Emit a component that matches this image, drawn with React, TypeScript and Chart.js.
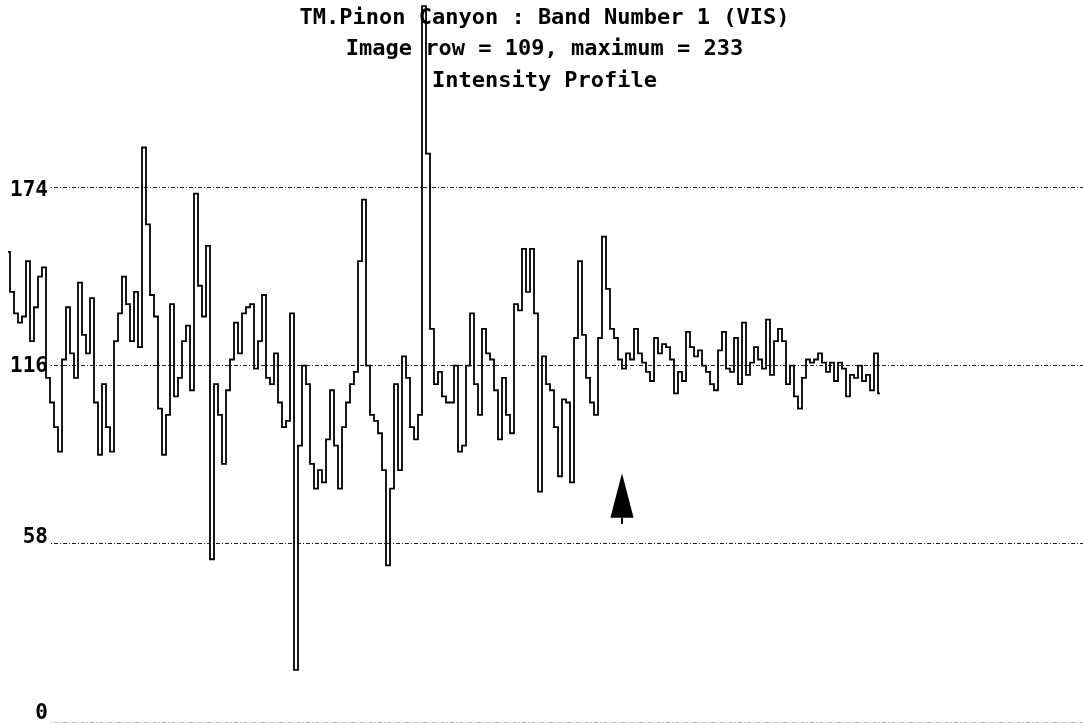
import { useEffect, useRef } from "react";
import { Chart, registerables } from "chart.js";

Chart.register(...registerables);

const TITLE_LINES = [
  "TM.Pinon Canyon : Band Number 1 (VIS)",
  "Image row = 109, maximum = 233",
  "Intensity Profile",
];

const Y_TICKS = [0, 58, 116, 174];
const Y_MIN = -0.3;
const Y_MAX = 235;
const X_MIN = -2;
const X_MAX = 268.75;

// Intensity along the image row (one value per profile sample)
const INTENSITY = [
  153, 140, 133, 130, 132, 150, 124, 135, 145, 148,
  112, 104, 96, 88, 118, 135, 120, 112, 143, 126,
  120, 138, 104, 87, 110, 96, 88, 124, 133, 145,
  136, 124, 140, 122, 187, 162, 139, 132, 102, 87,
  100, 136, 106, 112, 124, 129, 108, 172, 142, 132,
  155, 53, 110, 100, 84, 108, 118, 130, 120, 133,
  135, 136, 115, 124, 139, 112, 110, 120, 104, 96,
  98, 133, 17, 90, 116, 110, 84, 76, 82, 78,
  92, 108, 90, 76, 96, 104, 110, 114, 150, 170,
  116, 100, 98, 94, 82, 51, 76, 110, 82, 119,
  112, 96, 92, 100, 233, 185, 128, 110, 114, 106,
  104, 104, 116, 88, 90, 116, 133, 110, 100, 128,
  120, 118, 108, 92, 112, 100, 94, 136, 134, 154,
  140, 154, 133, 75, 119, 110, 108, 96, 80, 105,
  104, 78, 125, 150, 126, 112, 104, 100, 125, 158,
  141, 128, 125, 118, 115, 120, 118, 128, 120, 117,
  114, 111, 125, 120, 123, 122, 118, 107, 114, 111,
  127, 122, 119, 121, 116, 114, 110, 108, 121, 127,
  115, 114, 125, 110, 130, 113, 117, 122, 118, 115,
  131, 113, 124, 128, 124, 110, 116, 106, 102, 112,
  118, 117, 118, 120, 117, 114, 117, 111, 117, 115,
  106, 113, 112, 116, 111, 113, 108, 120, 107,
];

const SAMPLE_INDEX = INTENSITY.map((_, i) => i);

// Marker arrow (in data units)
const ARROW = { x: 153.5, tip: 81, base: 66.5, halfWidth: 2.9, stem: 64.5 };

const LABEL_NUDGE: Record<number, number> = { 174: 3, 116: 1, 58: -6, 0: -9 };

const overlayPlugin = {
  id: "overlay",
  beforeDatasetsDraw(chart: any) {
    const { ctx } = chart;
    const y = chart.scales.y;
    ctx.save();
    ctx.font = "bold 21px 'DejaVu Sans Mono'";
    ctx.textAlign = "right";
    ctx.textBaseline = "middle";
    for (const t of y.ticks) {
      const py = y.getPixelForValue(t.value);
      ctx.fillStyle = "#fff";
      ctx.fillRect(0, py - 2, 50, 4);
      ctx.fillStyle = "#000";
      ctx.fillText(String(t.value), 48, py + (LABEL_NUDGE[t.value] ?? 0));
    }
    ctx.restore();
  },
  afterDatasetsDraw(chart: any) {
    const { ctx } = chart;
    const xs = chart.scales.x;
    const ys = chart.scales.y;
    ctx.save();
    // title
    ctx.font = "bold 22px 'DejaVu Sans Mono'";
    ctx.fillStyle = "#000";
    ctx.textAlign = "center";
    ctx.textBaseline = "alphabetic";
    const cx = chart.width / 2 + 3;
    const baselines = [24, 55, 87];
    TITLE_LINES.forEach((line, i) => ctx.fillText(line, cx, baselines[i]));
    // arrow
    const ax = xs.getPixelForValue(ARROW.x);
    const hw = xs.getPixelForValue(ARROW.x + ARROW.halfWidth) - ax;
    const tipY = ys.getPixelForValue(ARROW.tip);
    const baseY = ys.getPixelForValue(ARROW.base);
    const stemY = ys.getPixelForValue(ARROW.stem);
    ctx.beginPath();
    ctx.moveTo(ax, tipY);
    ctx.lineTo(ax + hw, baseY);
    ctx.lineTo(ax - hw, baseY);
    ctx.closePath();
    ctx.fill();
    ctx.fillRect(ax - 1, baseY, 2, stemY - baseY);
    ctx.restore();
  },
};

export default function App() {
  const ref = useRef<HTMLCanvasElement | null>(null);
  useEffect(() => {
    if (!ref.current) return;
    const chart = new Chart(ref.current, {
      type: "line",
      data: {
        datasets: [
          {
            data: SAMPLE_INDEX.map((i) => ({ x: i, y: INTENSITY[i] })),
            borderColor: "#000",
            borderWidth: 1.8,
            pointRadius: 0,
            stepped: "middle",
            fill: false,
          },
        ],
      },
      options: {
        animation: false,
        responsive: true,
        maintainAspectRatio: false,
        layout: { padding: 0 },
        plugins: { legend: { display: false }, tooltip: { enabled: false }, title: { display: false } },
        scales: {
          x: { type: "linear", min: X_MIN, max: X_MAX, display: false },
          y: {
            type: "linear",
            min: Y_MIN,
            max: Y_MAX,
            afterBuildTicks: (axis: any) => {
              axis.ticks = Y_TICKS.map((v) => ({ value: v }));
            },
            ticks: { display: false },
            border: { display: false, dash: [4, 2, 1, 2] },
            grid: {
              color: (c: any) => (c.tick && c.tick.value === 0 ? "#b0b0b0" : "#222"),
              lineWidth: 1,
              drawTicks: false,
            },
            afterFit: (axis: any) => {
              axis.width = 0;
            },
          },
        },
      },
      plugins: [overlayPlugin],
    } as any);
    return () => chart.destroy();
  }, []);
  return (
    <div style={{ position: "fixed", left: 0, top: 0, width: 1083, height: 723, background: "#fff" }}>
      <canvas ref={ref} />
    </div>
  );
}
